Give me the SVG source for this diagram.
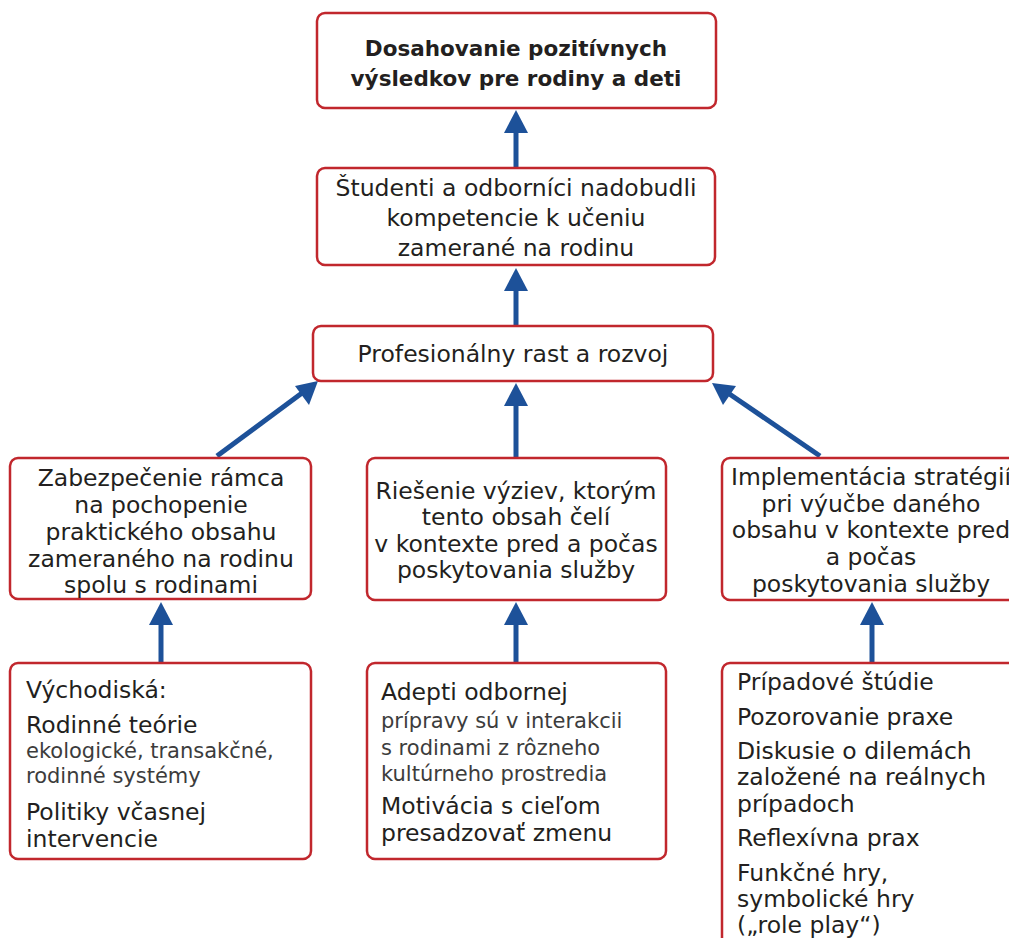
<svg xmlns="http://www.w3.org/2000/svg" width="1009" height="938" viewBox="0 0 1009 938">
  <defs>
    <style>
      .box { fill: #ffffff; stroke: #c1272d; stroke-width: 2.5; }
      .t { font-family: "DejaVu Sans", "Open Sans", sans-serif; font-size: 23.5px; fill: #231f20; }
      .c { text-anchor: middle; }
      .b { font-weight: bold; font-size: 21.5px; }
      .s { font-size: 21px; fill: #3c3c3c; }
      .edge { stroke: #1d5199; stroke-width: 5; fill: none; }
      .head { fill: #1d5199; }
    </style>
  </defs>

  <rect width="1009" height="938" fill="#ffffff"/>

  <!-- connectors -->
  <g id="connectors">
    <line class="edge" x1="516" y1="168" x2="516" y2="130"/>
    <polygon class="head" points="516,110 504,133 528,133"/>
    <line class="edge" x1="516" y1="326" x2="516" y2="288"/>
    <polygon class="head" points="516,268 504,291 528,291"/>
    <line class="edge" x1="516" y1="458" x2="516" y2="403"/>
    <polygon class="head" points="516,383 504,406 528,406"/>
    <line class="edge" x1="217" y1="456" x2="302" y2="393"/>
    <polygon class="head" points="318,381 309,405 295,386"/>
    <line class="edge" x1="820" y1="456" x2="728" y2="393"/>
    <polygon class="head" points="712,383 736,386 723,405"/>
    <line class="edge" x1="161" y1="663" x2="161" y2="622"/>
    <polygon class="head" points="161,602 149,625 173,625"/>
    <line class="edge" x1="516" y1="663" x2="516" y2="622"/>
    <polygon class="head" points="516,602 504,625 528,625"/>
    <line class="edge" x1="872" y1="663" x2="872" y2="622"/>
    <polygon class="head" points="872,602 860,625 884,625"/>
  </g>

  <g id="goal">
    <rect class="box" x="317" y="13" width="399" height="95" rx="8"/>
    <text class="t c b" x="516" y="56">Dosahovanie pozitívnych</text>
    <text class="t c b" x="516" y="86">výsledkov pre rodiny a deti</text>
  </g>

  <g id="competence">
    <rect class="box" x="317" y="168" width="398" height="97" rx="8"/>
    <text class="t c" x="516" y="196">Študenti a odborníci nadobudli</text>
    <text class="t c" x="516" y="226">kompetencie k učeniu</text>
    <text class="t c" x="516" y="256">zamerané na rodinu</text>
  </g>

  <g id="growth">
    <rect class="box" x="313" y="326" width="400" height="55" rx="8"/>
    <text class="t c" x="513" y="362">Profesionálny rast a rozvoj</text>
  </g>

  <g id="framework">
    <rect class="box" x="10" y="458" width="301" height="141" rx="8"/>
    <text class="t c" x="161" y="486">Zabezpečenie rámca</text>
    <text class="t c" x="161" y="513">na pochopenie</text>
    <text class="t c" x="161" y="540">praktického obsahu</text>
    <text class="t c" x="161" y="567">zameraného na rodinu</text>
    <text class="t c" x="161" y="593">spolu s rodinami</text>
  </g>

  <g id="challenges">
    <rect class="box" x="367" y="458" width="299" height="142" rx="8"/>
    <text class="t c" x="516" y="499">Riešenie výziev, ktorým</text>
    <text class="t c" x="516" y="525">tento obsah čelí</text>
    <text class="t c" x="516" y="552">v kontexte pred a počas</text>
    <text class="t c" x="516" y="578">poskytovania služby</text>
  </g>

  <g id="strategies">
    <rect class="box" x="722" y="458" width="300" height="142" rx="8"/>
    <text class="t c" x="871" y="485">Implementácia stratégií</text>
    <text class="t c" x="871" y="512">pri výučbe daného</text>
    <text class="t c" x="871" y="538">obsahu v kontexte pred</text>
    <text class="t c" x="871" y="565">a počas</text>
    <text class="t c" x="871" y="592">poskytovania služby</text>
  </g>

  <g id="foundations">
    <rect class="box" x="10" y="663" width="301" height="196" rx="8"/>
    <text class="t" x="26" y="698">Východiská:</text>
    <text class="t" x="26" y="733">Rodinné teórie</text>
    <text class="t s" x="26" y="758">ekologické, transakčné,</text>
    <text class="t s" x="26" y="783">rodinné systémy</text>
    <text class="t" x="26" y="820">Politiky včasnej</text>
    <text class="t" x="26" y="847">intervencie</text>
  </g>

  <g id="learners">
    <rect class="box" x="367" y="663" width="299" height="196" rx="8"/>
    <text class="t" x="381" y="700">Adepti odbornej</text>
    <text class="t s" x="381" y="728">prípravy sú v interakcii</text>
    <text class="t s" x="381" y="755">s rodinami z rôzneho</text>
    <text class="t s" x="381" y="781">kultúrneho prostredia</text>
    <text class="t" x="381" y="814">Motivácia s cieľom</text>
    <text class="t" x="381" y="841">presadzovať zmenu</text>
  </g>

  <g id="methods">
    <rect class="box" x="722" y="663" width="300" height="300" rx="8"/>
    <text class="t" x="737" y="690">Prípadové štúdie</text>
    <text class="t" x="737" y="725">Pozorovanie praxe</text>
    <text class="t" x="737" y="759">Diskusie o dilemách</text>
    <text class="t" x="737" y="785">založené na reálnych</text>
    <text class="t" x="737" y="812">prípadoch</text>
    <text class="t" x="737" y="846">Reflexívna prax</text>
    <text class="t" x="737" y="881">Funkčné hry,</text>
    <text class="t" x="737" y="907">symbolické hry</text>
    <text class="t" x="737" y="933">(„role play“)</text>
  </g>
</svg>
